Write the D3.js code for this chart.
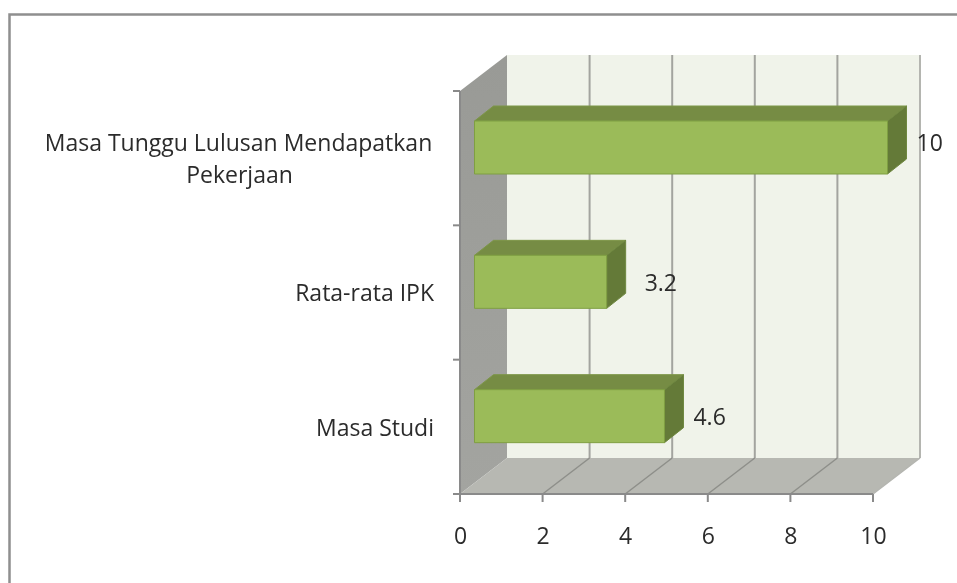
<!DOCTYPE html>
<html lang="en">
<head>
<meta charset="utf-8"/>
<title>Chart</title>
<script src="https://d3js.org/d3.v7.min.js"></script>
<style>
  html, body { margin: 0; padding: 0; background: #fff; }
  svg { display: block; filter: blur(0.65px); }
  text { font-family: "Open Sans", sans-serif; font-size: 23px; fill: #2b2b2b; }
</style>
</head>
<body>
<svg id="chart" width="957" height="583"></svg>
<script>
var categories = ["Masa Tunggu Lulusan Mendapatkan|Pekerjaan", "Rata-rata IPK", "Masa Studi"];
var values = [10, 3.2, 4.6];
var valueLabels = ["10", "3.2", "4.6"];
var xTicks = [0, 2, 4, 6, 8, 10];

// plot box front corner, and the 3d depth
var x = d3.scaleLinear().domain([0, 10]).range([460, 873]);
var y = d3.scaleBand().domain(categories).range([91, 494]);
var depth = { x: 47, y: -36 };
var barDepth = { x: 19, y: -15 };
var barLeft = 14.5, barTop = 30, barHeight = 53;
var top_ = y.range()[0], bottom = y.range()[1];

var svg = d3.select("#chart");

function poly(points, fill, stroke) {
  return svg.append("polygon")
    .attr("points", points.map(function(p) { return p.join(","); }).join(" "))
    .attr("fill", fill)
    .attr("stroke", stroke || "none");
}

// frame
svg.append("path").attr("d", "M9.5,583V14.5H957").attr("fill", "none")
  .attr("stroke", "#8f8f8f").attr("stroke-width", 2.5);

var defs = svg.append("defs");
var sideGrad = defs.append("linearGradient").attr("id", "side").attr("x1", 0).attr("y1", 0).attr("x2", 0).attr("y2", 1);
sideGrad.append("stop").attr("offset", 0).attr("stop-color", "#999a96");
sideGrad.append("stop").attr("offset", 1).attr("stop-color", "#a3a4a0");

// walls
var x0 = x(0), x10 = x(10);
poly([[x0 + depth.x, top_ + depth.y], [x10 + depth.x, top_ + depth.y], [x10 + depth.x, bottom + depth.y], [x0 + depth.x, bottom + depth.y]], "#f0f3ea");
poly([[x0, top_], [x0 + depth.x, top_ + depth.y], [x0 + depth.x, bottom + depth.y], [x0, bottom]], "url(#side)");
poly([[x0, bottom], [x0 + depth.x, bottom + depth.y], [x10 + depth.x, bottom + depth.y], [x10, bottom]], "#b7b8b2");

// gridlines on back wall and floor
xTicks.forEach(function(t) {
  if (t > 0) {
    svg.append("line")
      .attr("x1", x(t) + depth.x).attr("x2", x(t) + depth.x)
      .attr("y1", top_ + depth.y).attr("y2", bottom + depth.y)
      .attr("stroke", t == 10 ? "#b4b5b0" : "#a3a49f").attr("stroke-width", 2);
    svg.append("line")
      .attr("x1", x(t)).attr("x2", x(t) + depth.x)
      .attr("y1", bottom).attr("y2", bottom + depth.y)
      .attr("stroke", t == 10 ? "#b4b5b0" : "#8e8f8a").attr("stroke-width", 1.5);
  }
});

// axes
svg.append("line").attr("x1", x0).attr("x2", x0).attr("y1", top_).attr("y2", bottom + 8)
  .attr("stroke", "#8a8a8a").attr("stroke-width", 2);
svg.append("line").attr("x1", x0 - 7).attr("x2", x10).attr("y1", bottom).attr("y2", bottom)
  .attr("stroke", "#8a8a8a").attr("stroke-width", 2);

xTicks.forEach(function(t) {
  svg.append("line").attr("x1", x(t)).attr("x2", x(t)).attr("y1", bottom).attr("y2", bottom + 8)
    .attr("stroke", "#8a8a8a").attr("stroke-width", 2);
  svg.append("text").attr("x", x(t) + 0.5).attr("y", 544).attr("text-anchor", "middle").text(t);
});

categories.forEach(function(c) {
  svg.append("line").attr("x1", x0 - 7).attr("x2", x0).attr("y1", y(c)).attr("y2", y(c))
    .attr("stroke", "#8a8a8a").attr("stroke-width", 2);
});

// bars
categories.forEach(function(c, i) {
  var l = x0 + barLeft, r = x(values[i]) + barLeft, t = y(c) + barTop, b = t + barHeight;
  poly([[l, t], [l + barDepth.x, t + barDepth.y], [r + barDepth.x, t + barDepth.y], [r, t]], "#768c44", "#7d9648");
  poly([[r, t], [r + barDepth.x, t + barDepth.y], [r + barDepth.x, b + barDepth.y], [r, b]], "#647a38", "#6f8840");
  poly([[l, t], [r, t], [r, b], [l, b]], "#9bbb59", "#7f9f42");
});

// category labels, first one wraps to two centred lines
categories.forEach(function(c, i) {
  var lines = c.split("|");
  if (i == 0) {
    svg.append("text").attr("x", 238.5).attr("y", 151).attr("text-anchor", "middle").text(lines[0]);
    svg.append("text").attr("x", 239.5).attr("y", 183).attr("text-anchor", "middle").text(lines[1]);
  } else {
    svg.append("text").attr("x", 434).attr("y", y(c) + 76).attr("text-anchor", "end").text(lines[0]);
  }
});

// value labels
var labelGap = [29, 38, 29];
var labelDrop = [30, 36, 35.5];
values.forEach(function(v, i) {
  svg.append("text")
    .attr("x", x(v) + barLeft + labelGap[i])
    .attr("y", y(categories[i]) + barTop + labelDrop[i])
    .text(valueLabels[i]);
});
</script>
</body>
</html>
